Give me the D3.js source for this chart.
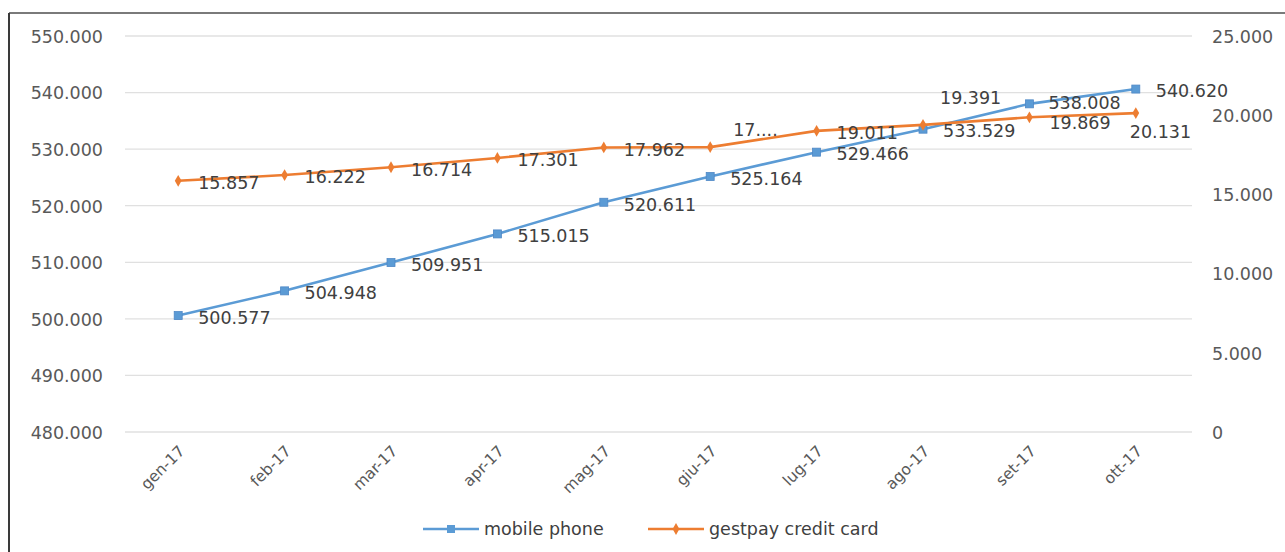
<!DOCTYPE html>
<html>
<head>
<meta charset="utf-8">
<script src="https://cdn.jsdelivr.net/npm/d3@7"></script>
<style>
  html, body { margin: 0; padding: 0; background: #fff; }
  svg { display: block; }
  text { font-family: "DejaVu Sans", sans-serif; }
</style>
</head>
<body>
<svg id="chart" width="1285" height="552"></svg>
<script>
// ---- data ----
const categories = ["gen-17","feb-17","mar-17","apr-17","mag-17","giu-17","lug-17","ago-17","set-17","ott-17"];
const mobilePhone = [500577, 504948, 509951, 515015, 520611, 525164, 529466, 533529, 538008, 540620];
const gestpayCard = [15857, 16222, 16714, 17301, 17962, 17985, 19011, 19391, 19869, 20131];
const leftTicks = [480000, 490000, 500000, 510000, 520000, 530000, 540000, 550000];
const rightTicks = [0, 5000, 10000, 15000, 20000, 25000];
const seriesNames = ["mobile phone", "gestpay credit card"];

// ---- setup ----
const svg = d3.select("#chart");
const W = 1285, H = 552;
const plot = { left: 125, right: 1189, top: 36, bottom: 432 };
const blue = "#5B9BD5", orange = "#ED7D31";

const locale = d3.formatLocale({ decimal: ",", thousands: ".", grouping: [3], currency: ["", ""] });
const fmt = locale.format(",d");

const x = d3.scalePoint().domain(categories).range([plot.left, plot.right]).padding(0.5);
const yL = d3.scaleLinear().domain([480000, 550000]).range([plot.bottom, plot.top]);
const yR = d3.scaleLinear().domain([0, 25000]).range([plot.bottom, plot.top]);

// frame
svg.append("line").attr("x1", 9).attr("x2", W).attr("y1", 13).attr("y2", 13)
  .attr("stroke", "#7a7a7a").attr("stroke-width", 2);
svg.append("line").attr("x1", 9).attr("x2", 9).attr("y1", 13).attr("y2", H)
  .attr("stroke", "#3a3a3a").attr("stroke-width", 2);

// gridlines
svg.append("g").selectAll("line").data(leftTicks).join("line")
  .attr("x1", plot.left).attr("x2", plot.right + 3)
  .attr("y1", d => yL(d)).attr("y2", d => yL(d))
  .attr("stroke", "#e0e0e0").attr("stroke-width", 1.3);

// left axis
const axL = svg.append("g").attr("transform", `translate(${plot.left - 22},0)`)
  .call(d3.axisLeft(yL).tickValues(leftTicks).tickFormat(fmt).tickSize(0).tickPadding(0));
axL.select(".domain").remove();
axL.selectAll("text").attr("font-size", 17.5).attr("fill", "#595959")
  .attr("font-family", "DejaVu Sans, sans-serif").attr("dy", "0.36em");

// right axis
const axR = svg.append("g").attr("transform", `translate(1212,0)`)
  .call(d3.axisRight(yR).tickValues(rightTicks).tickFormat(fmt).tickSize(0).tickPadding(0));
axR.select(".domain").remove();
axR.selectAll("text").attr("font-size", 17.5).attr("fill", "#595959")
  .attr("font-family", "DejaVu Sans, sans-serif").attr("dy", "0.36em");

// bottom axis labels
const axB = svg.append("g").attr("transform", `translate(0,${plot.bottom})`)
  .call(d3.axisBottom(x).tickSize(0).tickPadding(0));
axB.select(".domain").remove();
axB.selectAll("text")
  .attr("font-size", 15.5).attr("fill", "#595959").attr("font-family", "DejaVu Sans, sans-serif")
  .attr("text-anchor", "end").attr("dy", null).attr("y", 0)
  .attr("transform", "translate(7,20) rotate(-45)");

// lines
const lineL = d3.line().x((d, i) => x(categories[i])).y(d => yL(d));
const lineR = d3.line().x((d, i) => x(categories[i])).y(d => yR(d));

svg.append("path").datum(mobilePhone).attr("d", lineL)
  .attr("fill", "none").attr("stroke", blue).attr("stroke-width", 2.6).attr("stroke-linejoin", "round");
svg.append("g").selectAll("rect").data(mobilePhone).join("rect")
  .attr("x", (d, i) => x(categories[i]) - 4).attr("y", d => yL(d) - 4)
  .attr("width", 8).attr("height", 8).attr("fill", blue).attr("stroke", "#4f88c6").attr("stroke-width", 0.8);

svg.append("path").datum(gestpayCard).attr("d", lineR)
  .attr("fill", "none").attr("stroke", orange).attr("stroke-width", 2.6).attr("stroke-linejoin", "round");
const diamond = d3.symbol().type(d3.symbolDiamond).size(40);
svg.append("g").selectAll("path").data(gestpayCard).join("path")
  .attr("d", diamond)
  .attr("transform", (d, i) => `translate(${x(categories[i])},${yR(d)})`)
  .attr("fill", orange);

// data labels
const labelStyle = sel => sel.attr("font-size", 17.5).attr("fill", "#404040")
  .attr("font-family", "DejaVu Sans, sans-serif").attr("dy", "0.36em");

// placement of labels (style logic): default right of point
const placeBlue = categories.map(() => ({ dx: 20, dy: 2 }));
const placeOrange = categories.map(() => ({ dx: 20, dy: 2 }));
placeBlue[8] = { dx: 19, dy: -1 };
placeOrange[5] = { dx: 23, dy: -17 };
placeOrange[7] = { dx: 17, dy: -27 };
placeOrange[8] = { dx: 20, dy: 5 };
placeOrange[9] = { dx: -6, dy: 19 };
const orangeText = gestpayCard.map(fmt);
orangeText[5] = "17....";

svg.append("g").selectAll("text").data(mobilePhone).join("text")
  .attr("x", (d, i) => x(categories[i]) + placeBlue[i].dx)
  .attr("y", d => yL(d))
  .attr("transform", (d, i) => `translate(0,${placeBlue[i].dy})`)
  .text(d => fmt(d)).call(labelStyle);

svg.append("g").selectAll("text").data(gestpayCard).join("text")
  .attr("x", (d, i) => x(categories[i]) + placeOrange[i].dx)
  .attr("y", d => yR(d))
  .attr("transform", (d, i) => `translate(0,${placeOrange[i].dy})`)
  .text((d, i) => orangeText[i]).call(labelStyle);

// legend
const legend = svg.append("g").attr("transform", "translate(0,529)");
const legendItems = [
  { name: seriesNames[0], color: blue, x0: 423, type: "square" },
  { name: seriesNames[1], color: orange, x0: 648, type: "diamond" }
];
legendItems.forEach(it => {
  legend.append("line").attr("x1", it.x0).attr("x2", it.x0 + 56).attr("y1", 0).attr("y2", 0)
    .attr("stroke", it.color).attr("stroke-width", 2.6);
  if (it.type === "square") {
    legend.append("rect").attr("x", it.x0 + 24).attr("y", -4).attr("width", 8).attr("height", 8).attr("fill", it.color);
  } else {
    legend.append("path").attr("d", diamond).attr("transform", `translate(${it.x0 + 28},0)`).attr("fill", it.color);
  }
  legend.append("text").attr("x", it.x0 + 61).attr("y", 0).attr("dy", "0.36em")
    .attr("font-size", 17.5).attr("fill", "#404040").text(it.name);
});
</script>
</body>
</html>
